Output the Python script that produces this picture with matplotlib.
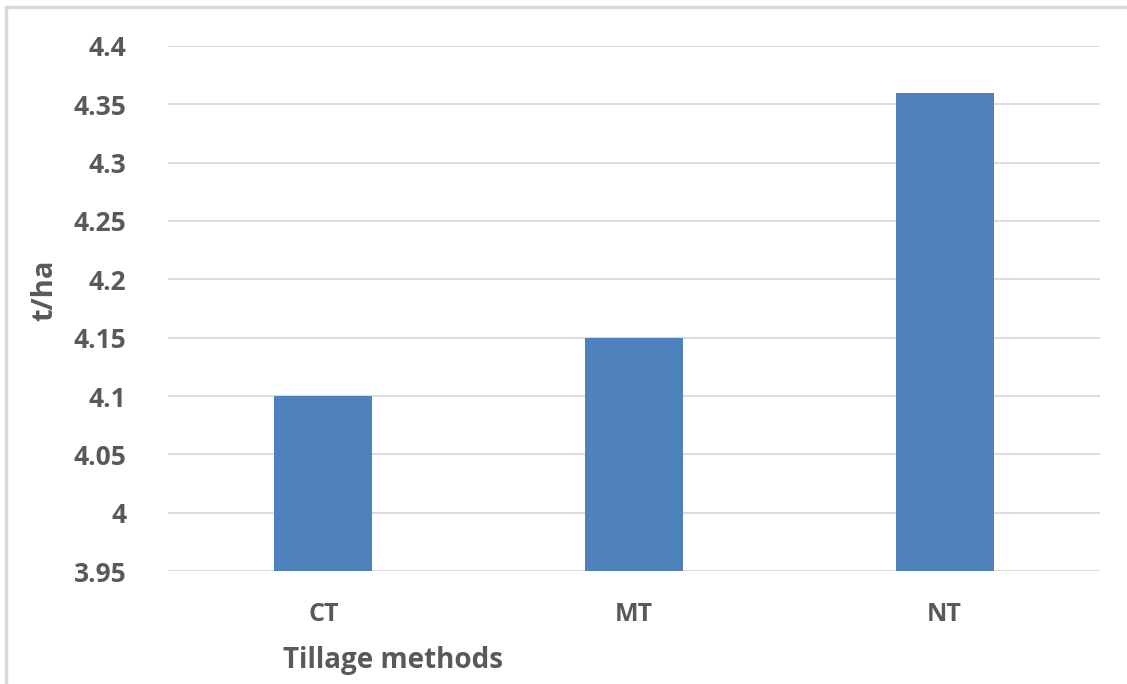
import matplotlib.pyplot as plt
from matplotlib.patches import Rectangle

# yield per tillage method
methods = ['CT', 'MT', 'NT']
yields = [4.10, 4.15, 4.36]
yticks = [3.95, 4.0, 4.05, 4.1, 4.15, 4.2, 4.25, 4.3, 4.35, 4.4]
ytick_labels = ['3.95', '4', '4.05', '4.1', '4.15', '4.2', '4.25', '4.3', '4.35', '4.4']

plt.rcParams['font.family'] = ['Open Sans', 'DejaVu Sans']
txt = '#595959'

fig = plt.figure(figsize=(11.27, 6.84), dpi=100)
ax = fig.add_axes([0.149, 0.165, 0.827, 0.768])

x = range(len(methods))
ax.bar(x, yields, width=0.315, color='#4F81BD', zorder=3)

ax.set_xlim(-0.5, 2.5)
ax.set_ylim(3.95, 4.4)
ax.set_yticks(yticks)
ax.set_yticklabels(ytick_labels)
ax.set_xticks(list(x))
ax.set_xticklabels(methods)

ax.grid(axis='y', color='#D9D9D9', linewidth=1.3, zorder=0)
for s in ax.spines.values():
    s.set_visible(False)
ax.tick_params(axis='y', length=0, pad=30, labelsize=19, labelcolor=txt)
ax.tick_params(axis='x', length=0, pad=22, labelsize=18, labelcolor=txt)
for lbl in ax.get_xticklabels() + ax.get_yticklabels():
    lbl.set_fontweight('bold')

fig.text(0.040, 0.576, 't/ha', rotation=90, ha='center', va='center',
         fontsize=21, fontweight='bold', color=txt)
fig.text(0.349, 0.035, 'Tillage methods', ha='center', va='center',
         fontsize=20, fontweight='bold', color=txt)

# light frame round the chart area
fig.patches.append(Rectangle((0.005, -0.05), 1.1, 1.04, transform=fig.transFigure,
                             fill=False, edgecolor='#D9D9D9', linewidth=2.5))

fig.savefig('out.png', dpi=100)
